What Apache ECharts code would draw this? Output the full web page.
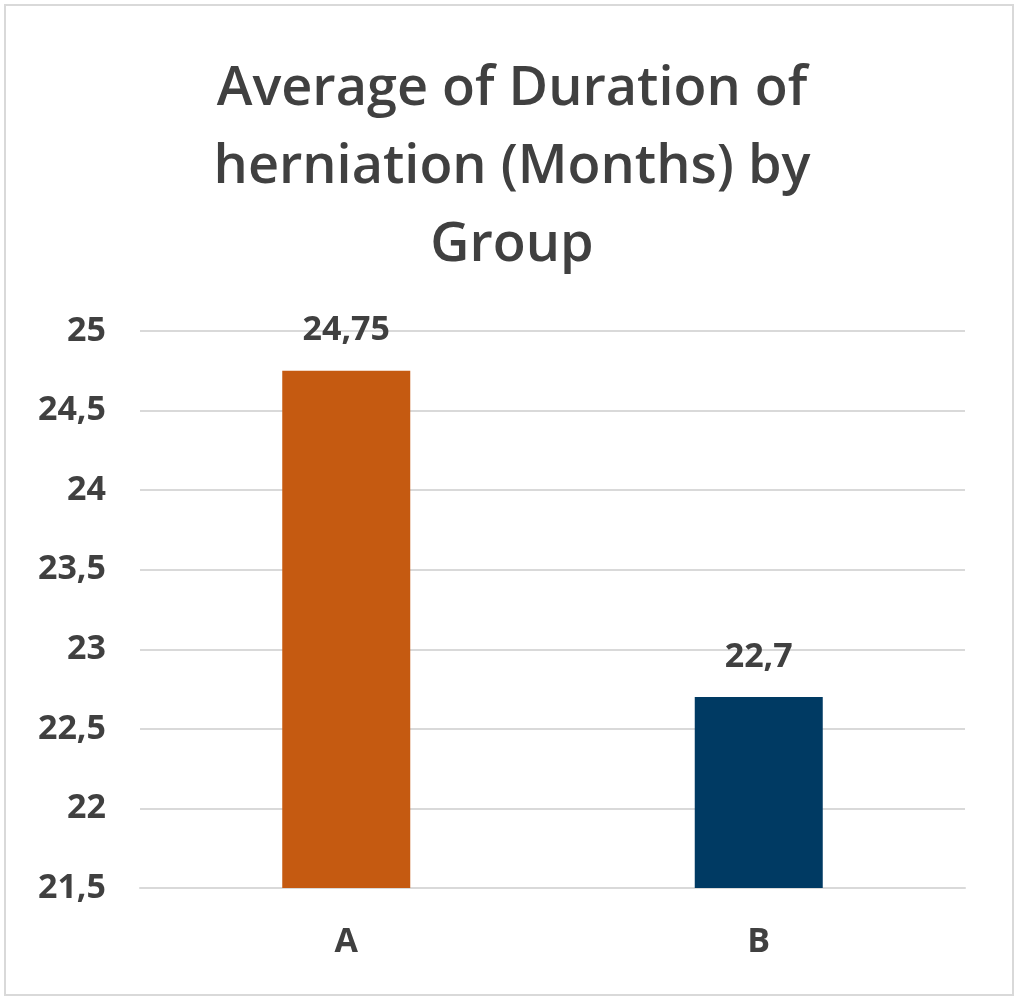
<!DOCTYPE html>
<html><head><meta charset="utf-8">
<script src="https://cdn.jsdelivr.net/npm/echarts@6/dist/echarts.min.js"></script>
<style>html,body{margin:0;padding:0;background:#fff}#c{width:1024px;height:999px}</style>
</head><body><div id="c"></div>
<script>
const categories = ['A', 'B'];
const values = [24.75, 22.7];
const barColors = ['#C55A11', '#003A63'];
const titleText = 'Average of Duration of\nherniation (Months) by\nGroup';

const chart = echarts.init(document.getElementById('c'));
chart.setOption({
  backgroundColor: '#fff',
  animation: false,
  graphic: [{
    type: 'rect', shape: {x: 5, y: 5, width: 1008, height: 990},
    style: {fill: 'none', stroke: '#d9d9d9', lineWidth: 2}
  }],
  title: {
    text: titleText, left: 'center', top: 46,
    textStyle: {fontFamily: 'Open Sans', fontWeight: 600, fontSize: 54, color: '#404040', lineHeight: 78}
  },
  grid: {left: 140, right: 59, top: 331, bottom: 111},
  xAxis: {
    type: 'category', data: categories,
    axisLine: {show: true, lineStyle: {color: '#d9d9d9', width: 2}},
    axisTick: {show: false},
    axisLabel: {fontFamily: 'Open Sans', fontWeight: 'bold', fontSize: 34, color: '#404040', margin: 37,
      formatter: v => v}
  },
  yAxis: {
    type: 'value', min: 21.5, max: 25, interval: 0.5,
    axisLine: {show: false}, axisTick: {show: false},
    splitLine: {lineStyle: {color: '#d9d9d9', width: 2}},
    axisLabel: {fontFamily: 'Open Sans', fontWeight: 'bold', fontSize: 34, color: '#404040', margin: 34,
      formatter: v => String(v).replace('.', ',')}
  },
  series: [{
    type: 'bar', barWidth: 128,
    data: values.map((v, i) => ({value: v, itemStyle: {color: barColors[i]}})),
    label: {show: true, position: 'top', distance: 23, fontFamily: 'Open Sans', fontWeight: 'bold', fontSize: 34, color: '#404040',
      formatter: p => String(p.value).replace('.', ',')}
  }]
});
</script></body></html>
